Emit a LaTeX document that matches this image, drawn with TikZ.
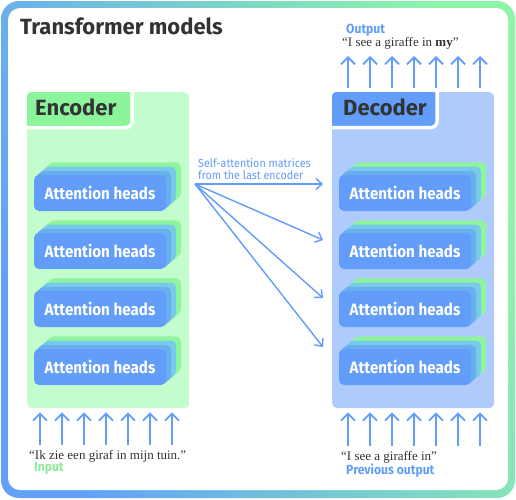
\documentclass[tikz,border=0pt]{standalone}
\usepackage{fontspec}
\setmainfont{Fira Sans}
\newfontfamily\condfont[FakeStretch=0.92]{Fira Sans}
\newfontfamily\quotefont{Liberation Serif}
\usetikzlibrary{arrows.meta}

\definecolor{bordblue}{HTML}{62A0FA}
\definecolor{bordgreen}{HTML}{8EF5A8}
\definecolor{encbg}{HTML}{C4FDCD}
\definecolor{enctab}{HTML}{8CF59B}
\definecolor{decbg}{HTML}{AFCBFB}
\definecolor{headblue}{HTML}{629DFA}
\definecolor{midblue}{HTML}{69AEEF}
\definecolor{headcyan}{HTML}{78CBE8}
\definecolor{headgreen}{HTML}{8EF59C}
\definecolor{darktext}{HTML}{333333}
\definecolor{inputgreen}{HTML}{8EEB9A}

\tikzset{
  head/.style={fill=headblue, rounded corners=5, minimum width=132, minimum height=36,
    text=white, font=\condfont\bfseries\fontsize{16.5}{18}\selectfont, inner sep=0},
  boxlabel/.style={text=darktext, font=\bfseries\fontsize{22}{24}\selectfont, inner sep=0},
  uparrow/.style={headblue, line width=1.8, -{Straight Barb[length=7pt,width=14pt]}},
  attarrow/.style={headblue, line width=1.4, -{Straight Barb[length=6pt,width=11pt]}},
  quote/.style={text=darktext, font=\quotefont\fontsize{13}{15}\selectfont, inner sep=0},
  tag/.style={font=\condfont\bfseries\fontsize{13.2}{14}\selectfont, inner sep=0},
  attlabel/.style={text=headblue, font=\condfont\fontsize{11.7}{13}\selectfont, inner sep=0}
}

% stack of attention heads: name, x, y
\newcommand{\headstack}[3]{%
  \foreach \col/\first/\last in {headgreen/15/11, headcyan/10/6, midblue/5/1}
    \foreach \t in {\first,...,\last}
      \fill[\col, rounded corners=5] (#2-66+\t, #3-18-0.85*\t) rectangle ++(132,36);
  \node[head] (#1) at (#2,#3) {Attention heads};
}

\begin{document}
\begin{tikzpicture}[x=1pt, y=-1pt]
    \useasboundingbox (0,0) rectangle (516,499);

    % frame
    \shade[left color=bordblue, right color=bordgreen, shading angle=110, rounded corners=18]
        (1,1) rectangle (515,498);
    \fill[white, rounded corners=12] (8,8) rectangle (508,490);

    \node[boxlabel, anchor=base west] (title) at (20,34) {Transformer models};

    % encoder
    \node[fill=encbg, rounded corners=5, minimum width=162, minimum height=316,
        anchor=north west, inner sep=0] (enc) at (27,92) {};
    \fill[enctab] (27,127.5) [rounded corners=4] -- (27,92) -- (132,92)
        [rounded corners=6] -- (132,127.5) [sharp corners] -- cycle;
    \draw[white, line width=3.5, rounded corners=6] (132,92) -- (132,127.5) -- (27,127.5);
    \node[boxlabel, anchor=base west] (enclab) at (35,115) {Encoder};

    % decoder
    \node[fill=decbg, rounded corners=5, minimum width=162, minimum height=316,
        anchor=north west, inner sep=0] (dec) at (332,92) {};
    \fill[headblue] (332,127.5) [rounded corners=4] -- (332,92) -- (437,92)
        [rounded corners=6] -- (437,127.5) [sharp corners] -- cycle;
    \draw[white, line width=3.5, rounded corners=6] (437,92) -- (437,127.5) -- (332,127.5);
    \node[boxlabel, anchor=base west] (declab) at (343,115) {Decoder};

    % attention heads
    \foreach \y [count=\i] in {193,251,309,367} {
        \headstack{e\i}{100}{\y}
        \headstack{d\i}{405}{\y}
    }

    % self-attention matrices
    \coordinate (src) at (195,184);
    \foreach \y [count=\i] in {184,240,298,347} {
        \coordinate (m\i) at (323,\y);
        \draw[attarrow] (src) -- (m\i);
    }
    \node[attlabel, anchor=base west] (att1) at (198,167.5) {Self-attention matrices};
    \node[attlabel, anchor=base west] (att2) at (198,179) {from the last encoder};

    % input
    \coordinate (inbase) at (40,445);
    \foreach \k in {0,...,6}
        \draw[uparrow, shorten >=4pt] ([xshift=\k*22]inbase) -- ([xshift=\k*22]inbase |- enc.south);
    \node[quote, anchor=base west] (inp) at (29,459) {“Ik zie een giraf in mijn tuin.”};
    \node[tag, text=inputgreen, anchor=base west] (inplab) at (34,471) {Input};

    % previous output
    \coordinate (prevbase) at (348,446);
    \foreach \k in {0,...,6}
        \draw[uparrow, shorten >=4pt] ([xshift=\k*22]prevbase) -- ([xshift=\k*22]prevbase |- dec.south);
    \node[quote, anchor=base west] (prev) at (341,460.5) {“I see a giraffe in”};
    \node[tag, text=headblue, anchor=base west] (prevlab) at (346,474) {Previous output};

    % output
    \coordinate (outtip) at (348,56);
    \foreach \k in {0,...,6}
        \draw[uparrow, shorten <=4pt] ([xshift=\k*22]outtip |- dec.north) -- ([xshift=\k*22]outtip);
    \node[quote, anchor=base west] (out) at (342,46) {“I see a giraffe in \textbf{my}”};
    \node[tag, text=headblue, anchor=base west] (outlab) at (346,33.5) {Output};
\end{tikzpicture}
\end{document}
